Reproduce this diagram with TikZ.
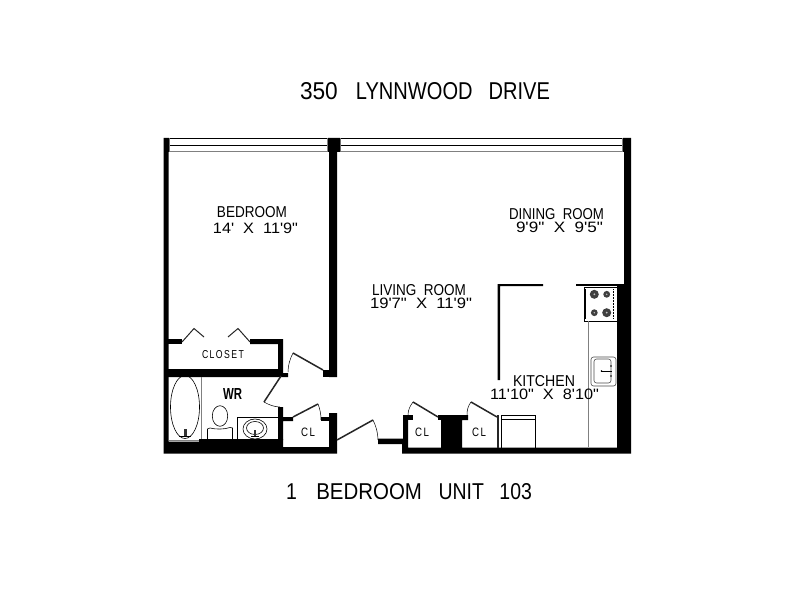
\documentclass[tikz,border=0pt]{standalone}
\usepackage{fontspec}
\usepackage{graphicx}
\newfontfamily\cad{Liberation Sans}
\newcommand{\fit}[3]{\resizebox{#1pt}{#2pt}{\cad #3}}
\tikzset{
  wall/.style={fill=black,draw=none},
  thin line/.style={draw=black,line width=0.6pt},
  gray line/.style={draw=black!50,line width=1pt},
  leaf/.style={draw=black!85,line width=1.5pt},
  swing/.style={draw=black,line width=0.5pt},
  label/.style={inner sep=0pt,outer sep=0pt,anchor=center,text=black},
}
\begin{document}
\begin{tikzpicture}[x=1pt,y=-1pt]
\useasboundingbox[fill=white] (0,0) rectangle (792,612);
% windows
\draw[thin line,line width=0.9pt] (169,138.5) -- (328,138.5) (340,138.5) -- (624,138.5);
\draw[thin line] (169,145) -- (328,145) (340,145) -- (624,145);
\draw[gray line] (169,152) -- (328,152) (340,152) -- (624,152);
\draw[gray line] (169.5,138.5) -- (169.5,152) (327.5,138.5) -- (327.5,152) (340.5,138.5) -- (340.5,152) (622.5,138.5) -- (622.5,152);
% main walls
\fill[wall] (163.5,138) -- (169,138) -- (169,152) -- (168.5,152) -- (168.5,441.5) -- (199,441.5) -- (199,439) -- (283,439) -- (283,447) -- (329,447) -- (329,413) -- (337,413) -- (337,453.5) -- (163.5,453.5) -- cycle;
\fill[wall] (328,138) -- (340,138) -- (340,152) -- (337,152) -- (337,377) -- (329,377) -- (329,152) -- (328,152) -- cycle;
\fill[wall] (623,138) -- (631,138) -- (631,453.5) -- (402,453.5) -- (402,444) -- (378,444) -- (378,438.5) -- (403,438.5) -- (403,415) -- (408,415) -- (408,447.5) -- (441,447.5) -- (441,415) -- (468,415) -- (468,420) -- (462,420) -- (462,447.5) -- (617,447.5) -- (617,284) -- (624,284) -- (624,152) -- (623,152) -- cycle;
% closet and washroom partitions
\fill[wall] (168,339) -- (182,339) -- (182,344) -- (168,344) -- cycle;
\fill[wall] (250,339) -- (283,339) -- (283,373) -- (288,373) -- (288,377) -- (168,377) -- (168,369) -- (278,369) -- (278,344) -- (250,344) -- cycle;
\fill[wall] (278,407) -- (283,407) -- (283,417) -- (293,417) -- (293,421) -- (283,421) -- (283,440) -- (278,440) -- cycle;
\fill[wall] (321,417) -- (329,417) -- (329,421) -- (321,421) -- cycle;
\fill[wall] (323,370) -- (329,370) -- (329,377) -- (323,377) -- cycle;
\fill[wall] (403,415) -- (413,415) -- (413,420) -- (403,420) -- cycle;
\fill[wall] (438,415) -- (441,415) -- (441,420) -- (438,420) -- cycle;
% kitchen partition
\fill[wall] (497.5,284) -- (543,284) -- (543,286) -- (500,286) -- (500,380) -- (497.5,380) -- cycle;
\fill[wall] (576,284) -- (617,284) -- (617,286) -- (576,286) -- cycle;
% closet bifold doors
\draw[leaf,line width=1pt] (182,342) -- (194,328.5) -- (204,337);
\draw[leaf,line width=1pt] (228,337) -- (238,328.5) -- (250,342);
% swing doors
\draw[leaf] (293,353) -- (323,370);
\draw[swing] (293,353) .. controls (290,359) and (288,365) .. (288,372);
\draw[leaf] (281,376) -- (264,402);
\draw[swing] (264,402) .. controls (269,405) and (275,407) .. (280,407);
\draw[leaf] (293,417) -- (318,404);
\draw[swing] (318,404) .. controls (320,409) and (321,414) .. (321,420);
\draw[leaf] (337,440) -- (373,420);
\draw[swing] (373,420) .. controls (376,426) and (378,433) .. (378,440);
\draw[leaf] (413,402) -- (438,417);
\draw[swing] (413,402) .. controls (410,406) and (408,410) .. (408,415);
\draw[leaf] (471,402) -- (497,417);
\draw[swing] (471,402) .. controls (468,406) and (467,410) .. (467,415);
% tub
\draw[gray line] (201.7,377) -- (201.7,439);
\draw[gray line] (168.5,440.7) -- (199,440.7);
\draw[thin line] (185,407) ellipse [x radius=14.5,y radius=31.5];
\fill[black!80] (183.5,429) rectangle (186.5,436);
\draw[line width=1.2pt] (179,436.5) -- (191,436.5);
% toilet
\draw[thin line] (220,416) ellipse [x radius=7.7,y radius=10.3];
\draw[thin line] (207.5,439) -- (207.5,429) -- (210,428) .. controls (216,429.5) and (224,429.5) .. (230,427.5) -- (232.5,428) -- (232.5,439);
% vanity
\draw[thin line] (279,417) -- (237.5,417) -- (237.5,439);
\draw[thin line] (255,429) ellipse [x radius=12,y radius=10];
\draw[thin line] (255,428) ellipse [x radius=8.5,y radius=6.5];
\fill[black!80] (254,430) rectangle (256,436);
\draw[line width=0.8pt] (251,436) -- (259,436);
% appliance by closet
\draw[line width=1.5pt,draw=black!85] (498,415) -- (498,448);
\draw[thin line] (501,415) -- (501,448);
\draw[thin line] (502,415) -- (535,415) -- (535,447.5);
\draw[line width=1pt] (502,419.5) -- (535,419.5);
% stove
\draw[thin line] (584,287) rectangle (617,321);
\draw[line width=1.2pt] (585.5,289) -- (585.5,319);
\fill[black!75] (594.3,294.3) circle (4.5) (606.7,294.3) circle (3.4) (594.3,312.7) circle (3.4) (606.7,312.7) circle (4.5);
\fill[black!25] (594.3,294.3) circle (1) (606.7,294.3) circle (0.8) (594.3,312.7) circle (0.8) (606.7,312.7) circle (1);
\draw[densely dotted,line width=0.5pt] (613.5,289) -- (613.5,319);
% counter edge
\draw[gray line] (588,321) -- (588,447);
% sink
\draw[thin line,draw=black!70,rounded corners=2.5pt] (591,357) rectangle (616,386);
\draw[thin line,draw=black!70,rounded corners=2.5pt] (594,359) rectangle (611,383);
\draw[line width=0.5pt] (601,371) -- (612,371);
\fill (601.5,371) circle (0.8) (611,366) circle (0.9) (611,376) circle (0.9);
% labels
\node[label] (title) at (425,91.5) {\fit{250}{17}{\scalebox{1.13}[1]{350}\hspace{0.9em}LYNNWOOD\hspace{0.8em}DRIVE}};
\node[label] (unit) at (409,492) {\fit{246}{16}{1\hspace{1em}\scalebox{1.05}[1]{BEDROOM}\hspace{0.85em}UNIT\hspace{0.8em}103}};
\node[label] (bedroom) at (252,212.5) {\fit{70}{11}{BEDROOM}};
\node[label] (bedroomdim) at (255.5,228) {\fit{85}{10.5}{14'\ \ X\ \ 11'9"}};
\node[label] (dining) at (556.5,214.5) {\fit{95}{11}{DINING\ \ ROOM}};
\node[label] (diningdim) at (559.5,227.5) {\fit{87}{10.5}{9'9"\ \ X\ \ 9'5"}};
\node[label] (living) at (419,290) {\fit{94}{11}{LIVING\ \ ROOM}};
\node[label] (livingdim) at (421,303.5) {\fit{102}{10.5}{19'7"\ \ X\ \ 11'9"}};
\node[label] (kitchen) at (544,381) {\fit{62}{11}{KITCHEN}};
\node[label] (kitchendim) at (544.5,394) {\fit{109}{10.5}{11'10"\ \ X\ \ 8'10"}};
\node[label] (closet) at (223,355) {\fit{42}{8}{C\,L\,O\,S\,E\,T}};
\node[label] (wr) at (232.5,394) {\fit{19}{11}{\textbf{WR}}};
\node[label] (cla) at (308,432.5) {\fit{14}{8.5}{C\,L}};
\node[label] (clb) at (422,432.5) {\fit{14}{8.5}{C\,L}};
\node[label] (clc) at (479,432.5) {\fit{14}{8.5}{C\,L}};
\end{tikzpicture}
\end{document}
